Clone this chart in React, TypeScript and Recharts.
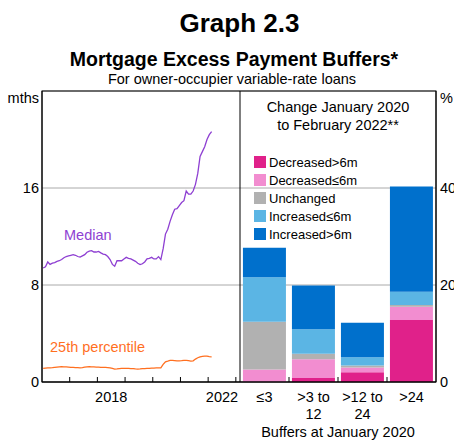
import React from 'react';
import {
  LineChart, Line, BarChart, Bar, XAxis, YAxis, CartesianGrid, Legend,
} from 'recharts';

const FONT = '"Liberation Sans", Arial, sans-serif';

// monthly, Jan 2016 to Feb 2022 (months)
const median = [
  9.4, 9.5, 9.9, 9.7, 9.8, 9.85, 9.95, 10.0, 10.1, 10.25, 10.35, 10.4,
  10.45, 10.5, 10.45, 10.35, 10.3, 10.4, 10.5, 10.7, 10.8, 10.83, 10.72, 10.72,
  10.77, 10.65, 10.55, 10.5, 10.35, 10.1, 9.7, 9.55, 10.0, 10.0, 10.0, 10.15,
  10.28, 10.2, 10.15, 10.05, 9.95, 9.8, 9.68, 9.75, 9.9, 10.15, 10.2, 10.28,
  10.15, 10.15, 10.34, 10.1, 11.0, 12.2, 12.6, 13.25, 13.8, 14.25, 14.3, 14.55,
  14.8, 14.95, 15.75, 15.5, 15.5, 15.75, 16.3, 17.2, 18.6, 19.0, 19.4, 20.0,
  20.4, 20.65,
];
const pct25 = [
  1.12, 1.15, 1.17, 1.17, 1.18, 1.2, 1.22, 1.24, 1.26, 1.25, 1.24, 1.22,
  1.2, 1.2, 1.19, 1.18, 1.17, 1.19, 1.22, 1.25, 1.26, 1.25, 1.24, 1.23,
  1.22, 1.21, 1.2, 1.2, 1.19, 1.17, 1.12, 1.07, 1.08, 1.1, 1.12, 1.12,
  1.12, 1.12, 1.11, 1.1, 1.08, 1.07, 1.08, 1.1, 1.11, 1.12, 1.13, 1.15,
  1.15, 1.16, 1.17, 1.17, 1.45, 1.67, 1.72, 1.78, 1.78, 1.77, 1.75, 1.75,
  1.76, 1.78, 1.78, 1.76, 1.72, 1.75, 1.89, 2.0, 2.08, 2.12, 2.13, 2.13,
  2.1, 2.08,
];
const START_YEAR = 2016;
const yearTicks = [2016, 2017, 2018, 2019, 2020, 2021, 2022, 2023];
const yearLabels = [2018, 2022];
const mthsTicks = [0, 8, 16, 24];

// buffers at January 2020 (% of loans)
const buffers = ['≤3', '>3 to\n12', '>12 to\n24', '>24'];
const decreasedOver6 = [0, 0.8, 2.0, 12.8];
const decreasedUpTo6 = [2.6, 3.9, 1.0, 2.7];
const unchanged = [9.8, 1.1, 0.4, 0.4];
const increasedUpTo6 = [9.2, 5.1, 1.7, 2.7];
const increasedOver6 = [6.1, 9.0, 7.1, 21.7];
const pctTicks = [0, 20, 40, 60];

const series = [
  { key: 'd6', name: 'Decreased>6m', color: '#e0218a' },
  { key: 'd', name: 'Decreased≤6m', color: '#f28dd0' },
  { key: 'u', name: 'Unchanged', color: '#b1b1b1' },
  { key: 'i', name: 'Increased≤6m', color: '#5bb5e4' },
  { key: 'i6', name: 'Increased>6m', color: '#0070cc' },
];

const lineData = median.map((m, i) => ({
  t: START_YEAR + (i + 0.5) / 12,
  median: m,
  p25: pct25[i],
}));

const barData = buffers.map((name, i) => ({
  name,
  d6: decreasedOver6[i],
  d: decreasedUpTo6[i],
  u: unchanged[i],
  i: increasedUpTo6[i],
  i6: increasedOver6[i],
}));

const X_DOMAIN: [number, number] = [2016, 2023.15];
const LEFT_W = 198;
const HALF_YEAR = LEFT_W / (X_DOMAIN[1] - X_DOMAIN[0]) / 2;
const BAND_HALF = 196 / buffers.length / 2;

const YearTick = (props: any) => {
  const { x, y, payload } = props;
  const v = payload.value;
  return (
    <g>
      {v > START_YEAR && <line x1={x} x2={x} y1={y} y2={y - 5} stroke="#000" />}
      {yearLabels.includes(v) && (
        <text x={x + HALF_YEAR} y={y + 20} textAnchor="middle" fontSize={14.5} fontFamily={FONT} fill="#000">
          {v}
        </text>
      )}
    </g>
  );
};

const BufferTick = (props: any) => {
  const { x, y, payload, index } = props;
  const lines = String(payload.value).split('\n');
  return (
    <g>
      {index > 0 && <line x1={x - BAND_HALF} x2={x - BAND_HALF} y1={y} y2={y - 5} stroke="#000" />}
      <text x={x} y={y + 20} textAnchor="middle" fontSize={14.5} fontFamily={FONT} fill="#000">
        {lines.map((l, i) => (
          <tspan key={i} x={x} dy={i === 0 ? 0 : 17}>{l}</tspan>
        ))}
      </text>
    </g>
  );
};

const LegendBox = () => (
  <div style={{ fontFamily: FONT, fontSize: 13, color: '#000' }}>
    {series.map((s) => (
      <div key={s.key} style={{ display: 'flex', alignItems: 'center', height: 18 }}>
        <span style={{ width: 12, height: 12, background: s.color, marginRight: 3, display: 'inline-block' }} />
        <span>{s.name}</span>
      </div>
    ))}
  </div>
);

const tickStyle = { fontSize: 14.5, fill: '#000', fontFamily: FONT };

export default function App() {
  return (
    <div style={{ position: 'absolute', left: 0, top: 0, width: 454, height: 441, background: '#fff', overflow: 'hidden' }}>
      <div style={{ position: 'absolute', left: 0, top: 0 }}>
        <LineChart width={240} height={441} data={lineData} margin={{ top: 91, right: 0, bottom: 0, left: 0 }}>
          <CartesianGrid vertical={false} stroke="#aaa" />
          <XAxis
            dataKey="t" type="number" domain={X_DOMAIN} ticks={yearTicks} allowDataOverflow
            height={59} tickSize={0} tickMargin={0} tickLine={false} axisLine={{ stroke: '#000' }}
            tick={<YearTick />} interval={0}
          />
          <YAxis
            domain={[0, 24]} ticks={mthsTicks} width={42} tickSize={0} tickMargin={3}
            tickLine={false} axisLine={{ stroke: '#000' }} tick={tickStyle}
            tickFormatter={(v) => (v === 24 ? '' : String(v))}
          />
          <Line dataKey="median" stroke="#8e3fd2" strokeWidth={1.3} dot={false} isAnimationActive={false} />
          <Line dataKey="p25" stroke="#ff6f1f" strokeWidth={1.3} dot={false} isAnimationActive={false} />
        </LineChart>
      </div>
      <div style={{ position: 'absolute', left: 240, top: 0 }}>
        <BarChart width={214} height={441} data={barData} margin={{ top: 91, right: 0, bottom: 0, left: 0 }} barCategoryGap="6%">
          <CartesianGrid vertical={false} stroke="#aaa" />
          <XAxis
            dataKey="name" height={59} tickSize={0} tickMargin={0} tickLine={false}
            axisLine={{ stroke: '#000' }} tick={<BufferTick />} interval={0}
          />
          <YAxis
            orientation="right" domain={[0, 60]} ticks={pctTicks} width={18} tickSize={0} tickMargin={4}
            tickLine={false} axisLine={{ stroke: '#000' }} tick={tickStyle}
            tickFormatter={(v) => (v === 60 ? '' : String(v))}
          />
          <Legend
            layout="vertical" align="center" verticalAlign="middle"
            wrapperStyle={{ top: 153, left: 14, width: 'auto' }} content={() => <LegendBox />}
          />
          {series.map((s) => (
            <Bar key={s.key} dataKey={s.key} name={s.name} stackId="a" fill={s.color} isAnimationActive={false} />
          ))}
        </BarChart>
      </div>
      <svg width={454} height={441} style={{ position: 'absolute', left: 0, top: 0, pointerEvents: 'none' }} fontFamily={FONT}>
        <text x={239.5} y={32} textAnchor="middle" fontSize={26} fontWeight="bold">Graph 2.3</text>
        <text x={234} y={66} textAnchor="middle" fontSize={19.5} fontWeight="bold">Mortgage Excess Payment Buffers*</text>
        <text x={232} y={84} textAnchor="middle" fontSize={14.5}>For owner-occupier variable-rate loans</text>
        <rect x={42} y={91} width={394} height={291} fill="none" stroke="#000" />
        <line x1={240} x2={240} y1={91} y2={382} stroke="#000" />
        <text x={39} y={103} textAnchor="end" fontSize={14.5}>mths</text>
        <text x={440} y={103} fontSize={14.5}>%</text>
        <text x={64} y={240} fontSize={14.5} fill="#8e3fd2">Median</text>
        <text x={50} y={352} fontSize={14.5} fill="#ff6f1f">25th percentile</text>
        <text x={338} y={112} textAnchor="middle" fontSize={14.5}>Change January 2020</text>
        <text x={338} y={130} textAnchor="middle" fontSize={14.5}>to February 2022**</text>
        <text x={338} y={437} textAnchor="middle" fontSize={14.5}>Buffers at January 2020</text>
      </svg>
    </div>
  );
}
